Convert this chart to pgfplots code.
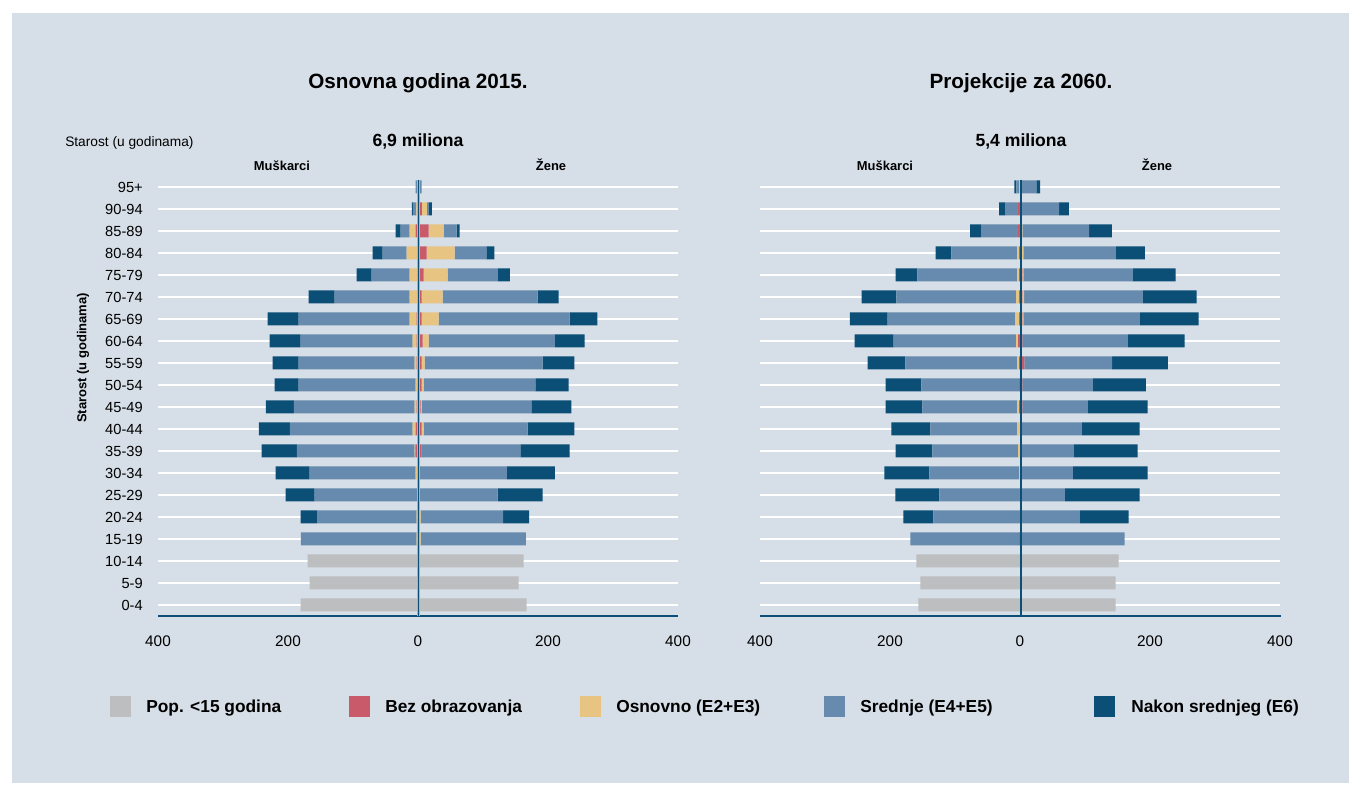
\documentclass[border=0pt]{standalone}
\usepackage{pgfplots}
\pgfplotsset{compat=1.18}
\usepackage{pgfplotstable}
\usepackage{fontspec}
\setmainfont{Liberation Sans}

\definecolor{bgc}{HTML}{D6DEE7}
\definecolor{cgrey}{HTML}{BDBEC0}
\definecolor{cred}{HTML}{C85A6A}
\definecolor{cyel}{HTML}{E8C482}
\definecolor{csred}{HTML}{668BAE}
\definecolor{cnak}{HTML}{0B4F76}
\definecolor{chalo}{HTML}{9DB6CB}

% 2015
\pgfplotstableread{
idx mG mB mO mS mN fG fB fO fS fN
0 180.5 0 0 0 0 167 0 0 0 0
1 166.7 0 0 0 0 155 0 0 0 0
2 169.7 0 0 0 0 162.6 0 0 0 0
3 0 0.5 1.5 178 0 0 0 4 162 0
4 0 0 2 153 25.5 0 0 4 127 40
5 0 0 1 158 44.6 0 0 2.6 120 69
6 0 0 3.6 163 52.3 0 0 2.6 134 74
7 0 4 1 181.5 54 0 5.6 0 152 75.5
8 0 3.6 4.6 189 47.7 0 5.6 3 160 72
9 0 2 3 186 43 0 4 1.5 169 61.5
10 0 1.5 2 180 37 0 5.6 3 172 51
11 0 2 3 178.5 40 0 5.6 4.6 181.5 49
12 0 2 6.2 172.3 47.7 0 7.2 9.2 194 46
13 0 2 10.8 171 47.7 0 5.6 26 201.5 43
14 0 1 11.8 115.4 40 0 5.6 32.3 146 32.3
15 0 1 11.8 58.5 23 0 8.7 37 77 18.5
16 0 1 16.4 37 15.4 0 13.3 43 49 12.3
17 0 3.6 9.2 13.8 7.7 0 16.4 23 20 4.6
18 0 0.5 2 5.5 1.5 0 6 7.7 3 4.6
19 0 0 0 3.6 0 0 0 0 5.6 0
}\dataA

% 2060
\pgfplotstableread{
idx mG mB mO mS mN fG fB fO fS fN
0 156.3 0 0 0 0 147 0 0 0 0
1 153.3 0 0 0 0 147 0 0 0 0
2 159.4 0 0 0 0 151.7 0 0 0 0
3 0 1.5 0 167 0 0 0 0 161 0
4 0 0 0 133.3 46 0 0 0 92 75
5 0 0 0 124.2 67.4 0 0 0 69 115
6 0 0 1.5 138 69 0 0 1.5 80 115
7 0 0 3 131.8 56.7 0 0 0 82.8 98
8 0 0 4.6 133.3 59.8 0 0 0 95 89
9 0 1.5 3 145.6 56.7 0 3.5 0 101 92
10 0 1.5 0 150.2 55.2 0 3.5 0 108.8 81.2
11 0 1.5 3 171.7 58.2 0 6.6 0 135 86
12 0 3 3 188.5 59.8 0 3.5 0 162.5 87.4
13 0 1.5 6 196.2 58.2 0 3.5 1.5 179.3 90.4
14 0 1.5 4.6 184 53.6 0 3.5 3 182.4 82.8
15 0 1.5 3 153.3 33.7 0 3.5 1.5 168.6 66
16 0 1.5 3 101 24.5 0 2 3 142.5 44.5
17 0 3 0 56.7 17 0 2 1.5 102.7 35.3
18 0 3 0 20 9.2 0 2 0 58 15.3
19 0 0 1 4.5 3 0 0 1.5 23.5 6
}\dataB

\pgfplotsset{
  pyr/.style={
    scale only axis, width=390pt, height=326.7pt,
    xmin=-400, xmax=400, ymin=-0.5, ymax=19.3,
    xbar stacked, bar width=9.75pt, clip=false,
  },
  ticked/.style={
    axis line style={draw=none}, major tick length=0pt,
    xtick={-400,-200,0,200,400}, xticklabels={400,200,0,200,400},
    xticklabel style={anchor=base, yshift=-23.25pt, font=\fontsize{11.5}{13}\selectfont},
    ymajorgrids, major grid style={white, line width=1pt},
    /pgf/number format/assume math mode=true,
  },
}

\newcommand{\males}[1]{%
  \addplot[fill=cgrey, draw=none] table[y=idx, x expr=-\thisrow{mG}] {#1};
  \addplot[fill=cred, draw=none] table[y=idx, x expr=-\thisrow{mB}] {#1};
  \addplot[fill=cyel, draw=none] table[y=idx, x expr=-\thisrow{mO}] {#1};
  \addplot[fill=csred, draw=none] table[y=idx, x expr=-\thisrow{mS}] {#1};
  \addplot[fill=cnak, draw=none] table[y=idx, x expr=-\thisrow{mN}] {#1};
}
\newcommand{\females}[1]{%
  \addplot[fill=cgrey, draw=none] table[y=idx, x=fG] {#1};
  \addplot[fill=cred, draw=none] table[y=idx, x=fB] {#1};
  \addplot[fill=cyel, draw=none] table[y=idx, x=fO] {#1};
  \addplot[fill=csred, draw=none] table[y=idx, x=fS] {#1};
  \addplot[fill=cnak, draw=none] table[y=idx, x=fN] {#1};
}

\begin{document}
\begin{tikzpicture}
\fill[white] (0,0) rectangle (1020.75pt,588.75pt);
\begin{scope}[x=0.75pt, y=-0.75pt, shift={(0pt,588.75pt)}]
  \fill[bgc] (12,13) rectangle (1349,783);
\end{scope}

% ---- left panel 2015
\begin{axis}[pyr, ticked, at={(118.5pt,126.75pt)}, anchor=south west,
  ytick={0,...,19},
  yticklabels={0-4,5-9,10-14,15-19,20-24,25-29,30-34,35-39,40-44,45-49,50-54,55-59,60-64,65-69,70-74,75-79,80-84,85-89,90-94,95+},
  yticklabel style={anchor=east, inner sep=0pt, xshift=-11.25pt, font=\fontsize{11}{13}\selectfont},
]
\males{\dataA}
\end{axis}
\begin{axis}[pyr, hide axis, at={(118.5pt,126.75pt)}, anchor=south west]
\females{\dataA}
\end{axis}

% ---- right panel 2060
\begin{axis}[pyr, ticked, at={(570pt,126.75pt)}, anchor=south west,
  ytick={0,...,19}, yticklabels={}]
\males{\dataB}
\end{axis}
\begin{axis}[pyr, hide axis, at={(570pt,126.75pt)}, anchor=south west]
\females{\dataB}
\end{axis}

\begin{scope}[x=0.75pt, y=-0.75pt, shift={(0pt,588.75pt)}]
  % axis base lines
  \draw[cnak, line width=1.6pt] (158,616) -- (678,616);
  \draw[cnak, line width=1.6pt] (760,616) -- (1281,616);
  % centre lines
  \draw[chalo, line width=2pt] (418.3,180) -- (418.3,616);
  \draw[cnak, line width=0.9pt] (418.3,180) -- (418.3,616);
  \draw[chalo, line width=2pt] (1021,180) -- (1021,616);
  \draw[cnak, line width=0.9pt] (1021,180) -- (1021,616);

  % titles
  \node[anchor=base, font=\fontsize{15.5}{18}\selectfont\bfseries] at (418,89) {Osnovna godina 2015.};
  \node[anchor=base, font=\fontsize{15.5}{18}\selectfont\bfseries] at (1021,89) {Projekcije za 2060.};
  \node[anchor=base, font=\fontsize{13.2}{15}\selectfont\bfseries] at (418,147) {6,9 miliona};
  \node[anchor=base, font=\fontsize{13.2}{15}\selectfont\bfseries] at (1021,147) {5,4 miliona};
  \node[anchor=base west, inner sep=0pt, font=\fontsize{10.3}{12}\selectfont] at (65,147) {Starost (u godinama)};
  \node[anchor=base, font=\fontsize{9.7}{11}\selectfont\bfseries] at (282,171) {Muškarci};
  \node[anchor=base, font=\fontsize{9.7}{11}\selectfont\bfseries] at (551,171) {Žene};
  \node[anchor=base, font=\fontsize{9.7}{11}\selectfont\bfseries] at (885,171) {Muškarci};
  \node[anchor=base, font=\fontsize{9.7}{11}\selectfont\bfseries] at (1157,171) {Žene};
  \node[rotate=90, font=\fontsize{9.75}{11}\selectfont\bfseries] at (83,358) {Starost (u godinama)};

  % legend
  \fill[cgrey] (110,696) rectangle (131,717);
  \node[anchor=base west, inner sep=0pt, font=\fontsize{13}{15}\selectfont\bfseries] at (146,713) {Pop. <15 godina};
  \fill[cred] (349,696) rectangle (370,717);
  \node[anchor=base west, inner sep=0pt, font=\fontsize{13}{15}\selectfont\bfseries] at (385,713) {Bez obrazovanja};
  \fill[cyel] (580,696) rectangle (601,717);
  \node[anchor=base west, inner sep=0pt, font=\fontsize{13}{15}\selectfont\bfseries] at (616,713) {Osnovno (E2+E3)};
  \fill[csred] (824,696) rectangle (845,717);
  \node[anchor=base west, inner sep=0pt, font=\fontsize{13}{15}\selectfont\bfseries] at (860,713) {Srednje (E4+E5)};
  \fill[cnak] (1094,696) rectangle (1115,717);
  \node[anchor=base west, inner sep=0pt, font=\fontsize{13}{15}\selectfont\bfseries] at (1131,713) {Nakon srednjeg (E6)};
\end{scope}
\end{tikzpicture}
\end{document}
